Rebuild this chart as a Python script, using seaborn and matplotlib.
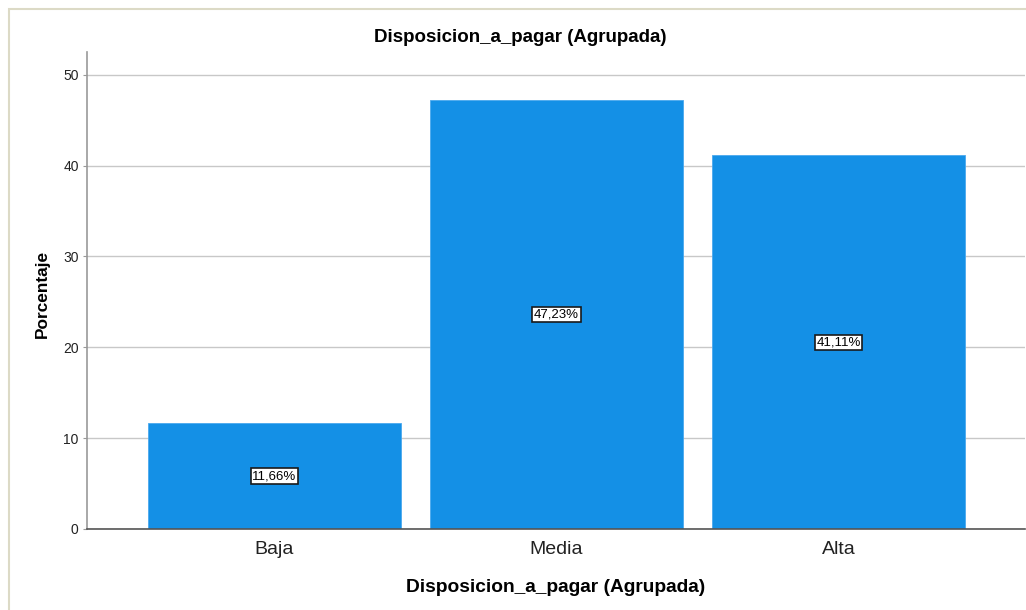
import matplotlib
matplotlib.use("Agg")
import matplotlib.pyplot as plt
import seaborn as sns
import pandas as pd
from matplotlib.patches import Rectangle

categories = ["Baja", "Media", "Alta"]
percentages = [11.66, 47.23, 41.11]
value_labels = ["11,66%", "47,23%", "41,11%"]
y_ticks = [0, 10, 20, 30, 40, 50]

title = "Disposicion_a_pagar (Agrupada)"
x_title = "Disposicion_a_pagar (Agrupada)"
y_title = "Porcentaje"

sns.set_theme(style="white")
plt.rcParams["font.family"] = ["Liberation Sans", "DejaVu Sans"]

df = pd.DataFrame({"cat": categories, "pct": percentages})

fig = plt.figure(figsize=(10.26, 6.10), dpi=100)
W, H = 1026, 610
ax = fig.add_axes([87 / W, 1 - 529 / H, (1025 - 87) / W, (529 - 52) / H])

# outer frame around the chart area
fig.patches.append(Rectangle((8.5 / W, -0.05), 1.2, 1 - 8.5 / H + 0.05,
                             transform=fig.transFigure, fill=False,
                             edgecolor="#dcdac6", linewidth=1.5))

ax.yaxis.grid(True, color="#c8c8c8", linewidth=1.0)
ax.set_axisbelow(True)

sns.barplot(data=df, x="cat", y="pct", order=categories, color="#1490e6",
            saturation=1, width=0.897, edgecolor="#4aa8ee", linewidth=0.6, ax=ax)

for i, (v, lab) in enumerate(zip(percentages, value_labels)):
    ax.text(i, v / 2, lab, ha="center", va="center", fontsize=9.5, color="black",
            bbox=dict(boxstyle="square,pad=0.12", facecolor="white",
                      edgecolor="#1a1a1a", linewidth=1.2))

ax.set_xlim(-0.665, 2.661)
ax.set_ylim(0, 52.5)
ax.set_yticks(y_ticks)
ax.set_yticklabels([str(t) for t in y_ticks], fontsize=10, color="#222222")
ax.tick_params(axis="y", length=3, width=0.8, color="#999999", pad=3, left=True)
ax.tick_params(axis="x", length=0, labelsize=14, pad=9, labelcolor="#222222")

for s in ["top", "right"]:
    ax.spines[s].set_visible(False)
ax.spines["left"].set_color("#999999")
ax.spines["left"].set_linewidth(1.2)
ax.spines["bottom"].set_color("#555555")
ax.spines["bottom"].set_linewidth(1.2)

ax.set_xlabel(x_title, fontsize=13.8, fontweight="bold", color="black")
ax.xaxis.set_label_coords(556 / W, 1 - 587 / H, transform=fig.transFigure)
ax.xaxis.label.set_va("center")
ax.set_ylabel(y_title, fontsize=12.4, fontweight="bold", color="black")
ax.yaxis.set_label_coords(42 / W, 1 - 294 / H, transform=fig.transFigure)
ax.yaxis.label.set_va("center")
fig.text(520 / W, 1 - 38 / H, title, ha="center", va="center",
         fontsize=13.5, fontweight="bold", color="black")

fig.savefig("out.png", dpi=100)
